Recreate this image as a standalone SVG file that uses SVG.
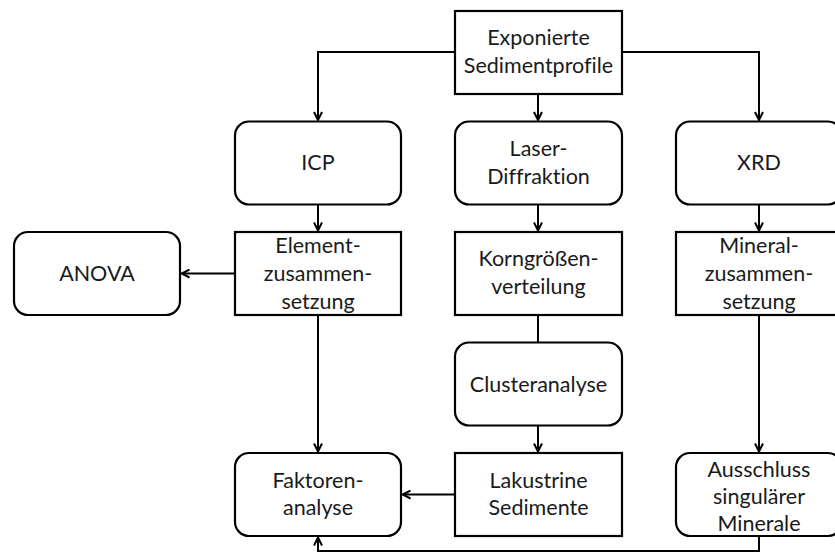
<svg xmlns="http://www.w3.org/2000/svg" width="835" height="554" viewBox="0 0 835 554">
<style>
.box{fill:#fff;stroke:#000;stroke-width:2.2}
.t{font-family:Lato,"Open Sans",sans-serif;font-size:21.5px;fill:#1a1a1a;text-anchor:middle;font-variant-ligatures:none;font-feature-settings:"liga" 0,"clig" 0}
.c{fill:none;stroke:#000;stroke-width:2}
</style>
<defs>
<marker id="arr" viewBox="0 0 10 10" refX="9" refY="5" markerWidth="10" markerHeight="10" markerUnits="userSpaceOnUse" orient="auto">
<path d="M1,1 L9,5 L1,9" fill="none" stroke="#000" stroke-width="2"/>
</marker>
</defs>
<rect width="835" height="554" fill="#fff"/>
<g id="connectors">
<path class="c" d="M455,52 H318 V120" marker-end="url(#arr)"/>
<path class="c" d="M622,52 H759 V120" marker-end="url(#arr)"/>
<path class="c" d="M538,94 V120" marker-end="url(#arr)"/>
<path class="c" d="M318,204.5 V230.5" marker-end="url(#arr)"/>
<path class="c" d="M538,204.5 V230.5" marker-end="url(#arr)"/>
<path class="c" d="M759,204.5 V230.5" marker-end="url(#arr)"/>
<path class="c" d="M235,273.5 H181.5" marker-end="url(#arr)"/>
<path class="c" d="M538,315 V342.5"/>
<path class="c" d="M538,425.5 V451.5" marker-end="url(#arr)"/>
<path class="c" d="M318,315 V451.5" marker-end="url(#arr)"/>
<path class="c" d="M759,315 V451.5" marker-end="url(#arr)"/>
<path class="c" d="M455,494.5 H402.5" marker-end="url(#arr)"/>
<path class="c" d="M759,536 V551 H318 V537.5" marker-end="url(#arr)"/>
</g>
<g id="n-exponierte">
<rect class="box" x="455" y="11" width="167" height="83"/>
<text class="t" x="538.5" y="45">Exponierte</text>
<text class="t" x="538.5" y="73">Sedimentprofile</text>
</g>
<g id="n-icp">
<rect class="box" x="235" y="121.5" width="166" height="83" rx="14"/>
<text class="t" x="318" y="170">ICP</text>
</g>
<g id="n-laser">
<rect class="box" x="455" y="121.5" width="167" height="83" rx="14"/>
<text class="t" x="538.5" y="156">Laser-</text>
<text class="t" x="538.5" y="184">Diffraktion</text>
</g>
<g id="n-xrd">
<rect class="box" x="676" y="121.5" width="166" height="83" rx="14"/>
<text class="t" x="759" y="170">XRD</text>
</g>
<g id="n-anova">
<rect class="box" x="14" y="232" width="166" height="83" rx="14"/>
<text class="t" x="97" y="281">ANOVA</text>
</g>
<g id="n-element">
<rect class="box" x="235" y="232" width="166" height="83"/>
<text class="t" x="318" y="252.5">Element-</text>
<text class="t" x="318" y="280.5">zusammen-</text>
<text class="t" x="318" y="308.5">setzung</text>
</g>
<g id="n-korngroessen">
<rect class="box" x="455" y="232" width="167" height="83"/>
<text class="t" x="538.5" y="266">Korngrößen-</text>
<text class="t" x="538.5" y="294">verteilung</text>
</g>
<g id="n-mineral">
<rect class="box" x="676" y="232" width="166" height="83"/>
<text class="t" x="759" y="252.5">Mineral-</text>
<text class="t" x="759" y="280.5">zusammen-</text>
<text class="t" x="759" y="308.5">setzung</text>
</g>
<g id="n-cluster">
<rect class="box" x="455" y="342.5" width="167" height="83" rx="14"/>
<text class="t" x="538.5" y="391.5">Clusteranalyse</text>
</g>
<g id="n-faktoren">
<rect class="box" x="235" y="453" width="166" height="83" rx="14"/>
<text class="t" x="318" y="487.5">Faktoren-</text>
<text class="t" x="318" y="515">analyse</text>
</g>
<g id="n-lakustrine">
<rect class="box" x="455" y="453" width="167" height="83"/>
<text class="t" x="538.5" y="487.5">Lakustrine</text>
<text class="t" x="538.5" y="515">Sedimente</text>
</g>
<g id="n-ausschluss">
<rect class="box" x="676" y="453" width="166" height="83" rx="14"/>
<text class="t" x="759" y="477">Ausschluss</text>
<text class="t" x="759" y="504">singulärer</text>
<text class="t" x="759" y="531">Minerale</text>
</g>
</svg>
